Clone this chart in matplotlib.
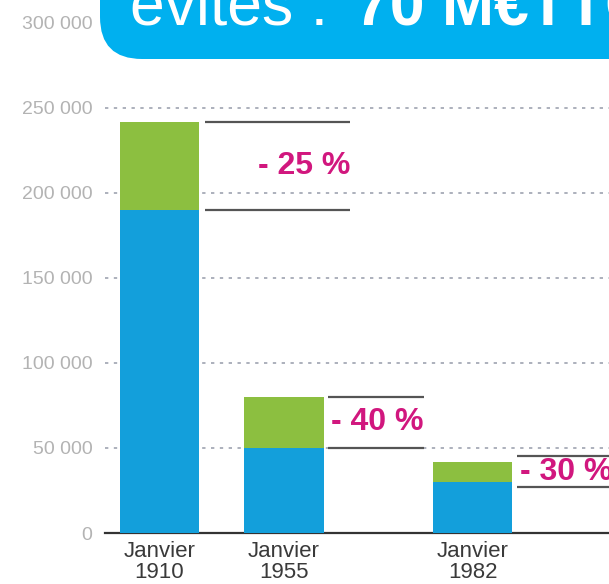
import matplotlib.pyplot as plt
import numpy as np
from matplotlib.patches import FancyBboxPatch
from matplotlib.transforms import IdentityTransform

plt.rcParams['font.family'] = ['Liberation Sans', 'DejaVu Sans']

# data
categories = ['Janvier\n1910', 'Janvier\n1955', 'Janvier\n1982']
totals = [242000, 80000, 42000]
base = [190000, 50000, 30000]
pct_labels = ['- 25 %', '- 40 %', '- 30 %']
bracket_hi = [242000, 80000, 45000]
bracket_lo = [190000, 50000, 27000]
yticks = [0, 50000, 100000, 150000, 200000, 250000, 300000]
ytick_labels = ['0', '50 000', '100 000', '150 000', '200 000', '250 000', '300 000']

top_part = [t - b for t, b in zip(totals, base)]

# layout
xpos = np.array([0, 1, 2.514])
bar_w = 0.635
blue_c = '#139fdb'
green_c = '#8cbf40'
pink = '#d1177e'

fig = plt.figure(figsize=(6.09, 5.84), dpi=100)
ax = fig.add_axes([105 / 609, 51 / 584, 504 / 609, 533 / 584])

ax.bar(xpos, base, width=bar_w, color=blue_c, zorder=3)
ax.bar(xpos, top_part, bottom=base, width=bar_w, color=green_c, zorder=3)

ax.set_xlim(-0.4378, 3.61)
ax.set_ylim(0, 313500)

for v in yticks[1:]:
    ax.axhline(v, color='#9ea3b0', lw=1.2, ls=(0, (2, 3.3)), zorder=1)

# brackets and percentages
line_x = [(0.365, 1.53), (1.353, 2.124), (2.871, 4.2)]
text_x = [1.53, 2.124, 2.895]
text_ha = ['right', 'right', 'left']
for i in range(3):
    x0, x1 = line_x[i]
    for v in (bracket_hi[i], bracket_lo[i]):
        ax.plot([x0, x1], [v, v], color='#555555', lw=1.6, zorder=4,
                solid_capstyle='butt', clip_on=False)
    ax.text(text_x[i], (bracket_hi[i] + bracket_lo[i]) / 2, pct_labels[i],
            ha=text_ha[i], va='center', color=pink, fontsize=23,
            fontweight='bold', zorder=5)

ax.set_yticks(yticks)
ax.set_yticklabels(ytick_labels, fontsize=14, color='#b3b3b3')
ax.set_xticks(xpos)
ax.set_xticklabels(categories, fontsize=16, color='#3a3a3a', linespacing=0.95)
ax.tick_params(axis='y', length=0, pad=9)
ax.tick_params(axis='x', length=0, pad=6)

for s in ['top', 'right', 'left']:
    ax.spines[s].set_visible(False)
ax.spines['bottom'].set_color('#333333')
ax.spines['bottom'].set_linewidth(1.6)

# header banner (cut off at the top of the picture)
box = FancyBboxPatch((100, 525), 700, 200, boxstyle='round,pad=0,rounding_size=42',
                     transform=IdentityTransform(), facecolor='#00b0ef',
                     edgecolor='none', zorder=10)
fig.patches.append(box)
fig.text(130, 559, 'évités :', transform=IdentityTransform(), fontsize=45,
         color='white', va='baseline', ha='left', zorder=11)
fig.text(355, 559, '70 M€TTC', transform=IdentityTransform(), fontsize=45,
         color='white', va='baseline', ha='left', fontweight='bold', zorder=11)

fig.savefig('out.png', dpi=100)
